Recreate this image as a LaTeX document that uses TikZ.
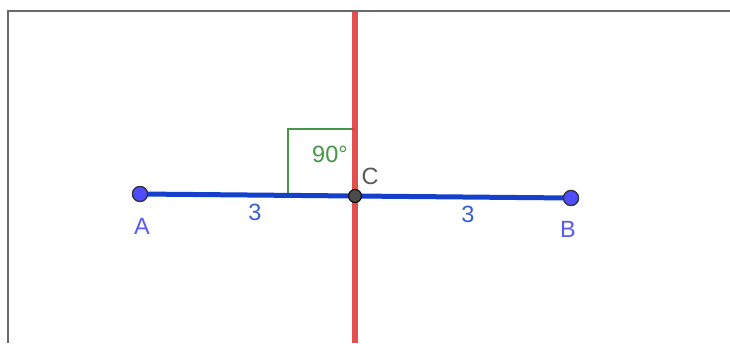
\documentclass[tikz,border=0pt]{standalone}
\usepackage{fontspec}
\setmainfont{Liberation Sans}
\definecolor{segblue}{RGB}{21,64,204}
\definecolor{ptblue}{RGB}{77,77,255}
\definecolor{lblblue}{RGB}{90,90,245}
\definecolor{numblue}{RGB}{55,95,215}
\definecolor{linered}{RGB}{222,60,60}
\definecolor{anggreen}{RGB}{70,150,70}
\definecolor{framegray}{RGB}{105,105,105}
\begin{document}
\begin{tikzpicture}[x=1pt,y=-1pt,
  lbl/.style={font=\fontsize{23.5}{26}\selectfont, inner sep=0pt},
  ptstyle/.style={circle, draw=black!80, line width=1.2pt, inner sep=0pt, minimum size=15pt}]
\useasboundingbox (0,0) rectangle (730,343);
\fill[white] (0,0) rectangle (730,343);
% frame
\coordinate (f1) at (8,343);
\coordinate (f2) at (8,11);
\coordinate (f3) at (730,11);
\draw[framegray, line width=2pt] (f1) -- (f2) -- (f3);
% right angle mark
\coordinate (q1) at (288,195);
\coordinate (q2) at (288,129);
\coordinate (q3) at (355,129);
\draw[anggreen, line width=2.4pt] (q1) -- (q2) -- (q3);
% perpendicular line
\coordinate (r1) at (355,12);
\coordinate (r2) at (355,343);
\draw[linered, opacity=0.9, line width=6pt] (r1) -- (r2);
% segment
\node[ptstyle, fill=ptblue] (A) at (140,194) {};
\node[ptstyle, fill=ptblue] (B) at (571,198) {};
\coordinate (Cc) at (355,196);
\draw[segblue, line width=5pt] (A.center) -- (B.center);
\node[ptstyle, fill=ptblue] at (A) {};
\node[ptstyle, fill=ptblue] at (B) {};
\node[circle, draw=black, fill=black!70, line width=1pt, inner sep=0pt, minimum size=13pt] (C) at (Cc) {};
% labels
\node[lbl, text=lblblue] (la) at (142,226) {A};
\node[lbl, text=lblblue] (lb) at (568,229) {B};
\node[lbl, text=numblue] (n1) at (255,212) {3};
\node[lbl, text=numblue] (n2) at (468,214) {3};
\node[lbl, text=anggreen] (ang) at (330,154) {90°};
\node[lbl, text=black!65] (lc) at (370,176) {C};
\end{tikzpicture}
\end{document}
